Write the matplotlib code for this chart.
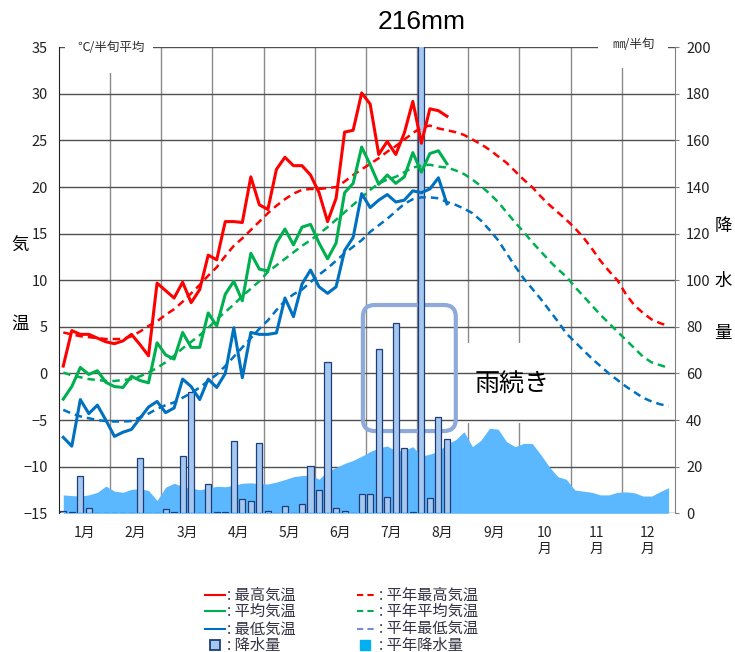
import numpy as np
import matplotlib
matplotlib.use("Agg")
import matplotlib.pyplot as plt
from matplotlib.patches import Rectangle, FancyBboxPatch
from matplotlib.lines import Line2D

plt.rcParams['font.family'] = ['Noto Sans CJK JP', 'DejaVu Sans']

# 半旬ごとの観測値 (1月第1半旬〜8月第4半旬)
tmax = [0.8, 4.6, 4.2, 4.2, 3.8, 3.4, 3.2, 3.5, 4.2, 3.1, 1.9, 9.7, 8.9, 8.1, 9.8, 7.6,
        9.0, 12.7, 12.2, 16.3, 16.3, 16.2, 21.1, 18.1, 17.6, 21.9, 23.2, 22.3, 22.3, 21.3,
        19.4, 16.3, 18.8, 25.9, 26.1, 30.1, 28.9, 23.5, 24.9, 23.5, 25.8, 29.2, 24.7, 28.4,
        28.2, 27.6]
tmean = [-2.75, -1.4, 0.65, -0.1, 0.3, -0.95, -1.4, -1.5, -0.3, -0.75, -1.0, 3.3, 2.0, 1.55,
         4.4, 2.8, 2.8, 6.5, 5.1, 8.5, 9.9, 7.8, 12.9, 11.2, 11.0, 14.0, 15.5, 13.8, 15.7,
         16.0, 14.0, 12.3, 14.0, 19.4, 20.4, 24.3, 22.4, 20.3, 21.3, 20.4, 21.1, 23.7, 21.6,
         23.6, 23.9, 22.5]
tmin = [-6.85, -7.8, -2.8, -4.3, -3.4, -5.0, -6.75, -6.3, -6.0, -4.8, -3.6, -3.0, -4.2, -3.7,
        -0.6, -1.4, -2.8, -0.6, -1.5, 0.0, 4.9, -0.45, 4.4, 4.2, 4.2, 4.35, 8.1, 6.1, 9.6,
        11.1, 9.3, 8.6, 9.3, 13.2, 14.6, 19.3, 17.8, 18.6, 19.2, 18.4, 18.6, 19.6, 19.4,
        19.8, 21.0, 18.2]
precip = [1.0, 0.4, 16.0, 2.1, 0, 0, 0, 0, 0, 23.6, 0, 0, 1.7, 0.4, 24.6, 52.2, 0, 12.4,
          0.4, 0.4, 31.0, 6.1, 5.4, 30.3, 1.0, 0, 3.2, 0, 4.0, 20.3, 10.2, 64.9, 2.4, 1.0,
          0, 8.3, 8.1, 70.6, 6.9, 81.5, 27.9, 0.4, 216, 6.7, 41.5, 32.1]

# 平年値 (72半旬)
norm_tmax = [4.4, 4.2, 4.0, 3.9, 3.8, 3.7, 3.7, 3.7, 4.0, 4.5, 5.1, 5.6, 6.3, 6.9, 7.7, 8.6,
             9.5, 10.5, 11.4, 12.6, 13.7, 14.5, 15.4, 16.3, 17.2, 18.0, 18.7, 19.3, 19.7,
             19.8, 19.8, 19.9, 20.0, 20.6, 21.3, 21.9, 22.5, 23.1, 23.8, 24.4, 25.1, 25.8,
             26.4, 26.6, 26.3, 26.1, 25.9, 25.6, 25.1, 24.6, 24.0, 23.3, 22.6, 21.7, 20.8,
             20.0, 19.0, 18.1, 17.3, 16.5, 15.6, 14.6, 13.4, 12.1, 11.0, 10.0, 8.5, 7.3, 6.5,
             5.8, 5.4, 5.1]
norm_tmean = [0.1, -0.2, -0.4, -0.6, -0.7, -0.8, -0.8, -0.7, -0.6, -0.3, 0.1, 0.6, 1.2, 1.9,
              2.7, 3.4, 4.1, 4.9, 5.8, 6.6, 7.4, 8.3, 9.1, 9.9, 10.9, 11.6, 12.3, 13.0, 13.7,
              14.3, 15.0, 15.7, 16.5, 17.3, 18.1, 18.9, 19.7, 20.4, 20.8, 21.1, 21.6, 22.1,
              22.3, 22.4, 22.2, 22.1, 21.8, 21.4, 20.8, 20.1, 19.3, 18.4, 17.3, 16.2, 15.2,
              14.1, 13.1, 12.1, 11.2, 10.4, 9.3, 8.3, 7.3, 6.3, 5.4, 4.5, 3.6, 2.7, 1.8, 1.2,
              0.9, 0.6]
norm_tmin = [-3.9, -4.3, -4.6, -4.8, -5.0, -5.1, -5.15, -5.15, -5.1, -4.7, -4.3, -3.8, -3.4,
             -3.1, -2.6, -2.1, -1.5, -0.8, -0.1, 0.8, 1.8, 2.8, 3.8, 4.8, 5.7, 6.8, 7.8, 8.5,
             9.0, 9.8, 10.6, 11.3, 12.1, 12.9, 13.6, 14.3, 15.2, 15.9, 16.6, 17.4, 18.2, 18.7,
             18.9, 18.9, 18.8, 18.4, 18.1, 17.7, 17.2, 16.4, 15.4, 14.3, 12.9, 11.5, 10.2, 9.1,
             8.0, 6.8, 5.6, 4.3, 3.4, 2.5, 1.6, 0.8, 0.0, -0.7, -1.4, -2.0, -2.6, -3.0, -3.3,
             -3.5]
norm_precip = [7.9, 7.6, 7.4, 7.9, 9.0, 11.7, 9.5, 9.0, 10.3, 10.5, 9.8, 5.5, 11.2, 12.9,
               11.5, 10.8, 10.1, 10.8, 11.6, 11.4, 12.0, 12.9, 13.1, 12.7, 12.6, 13.4, 14.5,
               15.7, 16.2, 16.4, 14.6, 18.0, 19.7, 21.4, 22.7, 24.5, 26.5, 28.0, 28.9, 26.8,
               27.0, 28.6, 24.5, 25.4, 26.6, 29.8, 31.5, 35.0, 28.6, 31.4, 36.5, 36.1, 30.7,
               28.6, 30.0, 30.0, 25.2, 20.0, 15.7, 14.6, 10.0, 9.5, 9.0, 7.9, 7.9, 9.0, 9.2,
               8.8, 7.4, 7.4, 9.3, 11.0]

month_labels = ["1月", "2月", "3月", "4月", "5月", "6月", "7月", "8月", "9月",
                "10\n月", "11\n月", "12\n月"]

RED, GREEN, BLUE = '#ff0000', '#00b050', '#0070c0'
W, H = 735, 652

fig = plt.figure(figsize=(W / 100, H / 100), dpi=100)
ax2 = fig.add_axes([59 / W, (H - 513.3) / H, 616 / W, 466 / H])
ax = ax2.twinx()
ax.set_zorder(ax2.get_zorder() + 1)
ax.patch.set_visible(False)

x_obs = np.arange(len(tmax)) + 0.5
x_norm = np.arange(len(norm_tmax)) + 0.5

ax2.set_xlim(0, 72.25)
ax2.set_ylim(0, 200)
ax.set_ylim(-15, 35)

# grille
for m in range(1, 12):
    ax2.axvline(m * 6, color='#8a8a8a', lw=1, zorder=0.5)
for v in range(0, 201, 20):
    ax2.axhline(v, color='#505050', lw=1, zorder=0.6)

# cadre blanc derrière le texte
ax2.add_patch(Rectangle((46.7, 38.7), 13.3, 34.4, facecolor='white', edgecolor='none',
                        zorder=0.55))
# étiquettes d'unité en haut
ax2.add_patch(Rectangle((0.7, 188.9), 10.3, 18, facecolor='white', edgecolor='none',
                        zorder=0.7, clip_on=False))
ax2.add_patch(Rectangle((63.2, 191.0), 8.2, 16, facecolor='white', edgecolor='none',
                        zorder=0.7, clip_on=False))
ax2.text(6.15, 200, "℃/半旬平均", fontsize=9, color='#333333', ha='center', va='center',
         zorder=0.8, clip_on=False)
ax2.text(67.35, 201.4, "㎜/半旬", fontsize=9, color='#333333', ha='center', va='center',
         zorder=0.8, clip_on=False)

# encadré arrondi
ax2.add_patch(FancyBboxPatch((35.64, 35.3), 10.9, 54.1,
                             boxstyle="round,pad=0,rounding_size=1.4", mutation_aspect=3.66,
                             facecolor='none', edgecolor='#8eaadb', lw=3, zorder=1))

# précipitations
ax2.fill_between(x_norm, 0, norm_precip, color='#5bb8ff', lw=0, zorder=1.5)
ax2.bar(x_obs, precip, width=0.72, color='#a4c8f0', edgecolor='#1f3d7a', lw=0.9,
        zorder=2)

ax2.text(53.2, 55.0, "雨続き", fontsize=18, color='black', ha='center', va='center',
         zorder=3)
ax2.text(42.5, 210.8, "216mm", fontsize=19, color='black', ha='center', va='center',
         family=['Liberation Sans', 'DejaVu Sans'], clip_on=False, zorder=3)

# températures
dash = (0, (3, 2))
ax.plot(x_norm, norm_tmax, color=RED, lw=1.8, ls=dash)
ax.plot(x_norm, norm_tmean, color=GREEN, lw=1.8, ls=dash)
ax.plot(x_norm, norm_tmin, color=BLUE, lw=1.8, ls=dash)
ax.plot(x_obs, tmax, color=RED, lw=2.2)
ax.plot(x_obs, tmean, color=GREEN, lw=2.2)
ax.plot(x_obs, tmin, color=BLUE, lw=2.2)

# axes
ax2.set_xticks(np.arange(12) * 6 + 3)
ax2.set_xticklabels(month_labels, fontsize=10, color='#222222', linespacing=1.15)
ax2.tick_params(axis='x', length=0, pad=9)

ax.yaxis.tick_left()
ax.set_yticks(range(-15, 36, 5))
ax.tick_params(axis='y', length=0, pad=8, labelsize=10.5, labelcolor='#222222')
ax2.yaxis.tick_right()
ax2.set_yticks(range(0, 201, 20))
ax2.tick_params(axis='y', length=3, pad=5, labelsize=10.5, labelcolor='#222222',
                color='#808080')

for s in ['top', 'bottom', 'right', 'left']:
    ax.spines[s].set_visible(False)
    ax2.spines[s].set_visible(False)
ax.spines['left'].set_visible(True)
ax.spines['left'].set_color('#222222')
ax2.spines['right'].set_visible(True)
ax2.spines['right'].set_color('#808080')


def fp(x, y):
    return x / W, 1 - y / H


# titres des axes
for ch, (x, y) in zip("気温", [(20, 246), (20, 324)]):
    fig.text(*fp(x, y), ch, fontsize=12.5, ha='center', va='center')
for ch, (x, y) in zip("降水量", [(723, 226), (723, 281), (723, 333)]):
    fig.text(*fp(x, y), ch, fontsize=12.5, ha='center', va='center')

# légende
rows = [595, 611, 629, 645]
items_left = [("最高気温", RED), ("平均気温", GREEN), ("最低気温", BLUE)]
items_right = [("平年最高気温", RED), ("平年平均気温", GREEN), ("平年最低気温", '#6f8fd0')]
for (lab, c), y in zip(items_left, rows):
    x0, y0 = fp(205, y)
    x1, _ = fp(225, y)
    fig.add_artist(Line2D([x0, x1], [y0, y0], color=c, lw=1.5, transform=fig.transFigure))
    fig.text(*fp(227, y), ": " + lab, fontsize=11, color='#333344', ha='left', va='center')
for (lab, c), y in zip(items_right, rows):
    x0, y0 = fp(357, y)
    x1, _ = fp(377, y)
    fig.add_artist(Line2D([x0, x1], [y0, y0], color=c, lw=1.5, ls=(0, (3, 2)),
                          transform=fig.transFigure))
    fig.text(*fp(379, y), ": " + lab, fontsize=11, color='#333344', ha='left', va='center')

fig.add_artist(Line2D([fp(215, 645)[0]], [fp(215, 645)[1]], marker='s', ms=7,
                      markerfacecolor='#a4c8f0', markeredgecolor='#1f3d7a', mew=1.3,
                      transform=fig.transFigure))
fig.text(*fp(227, 645), ": 降水量", fontsize=11, color='#333344', ha='left', va='center')
fig.add_artist(Line2D([fp(365, 645)[0]], [fp(365, 645)[1]], marker='s', ms=7,
                      markerfacecolor='#00b0f0', markeredgecolor='#00b0f0',
                      transform=fig.transFigure))
fig.text(*fp(379, 645), ": 平年降水量", fontsize=11, color='#333344', ha='left', va='center')

fig.savefig("out.png", dpi=100)
